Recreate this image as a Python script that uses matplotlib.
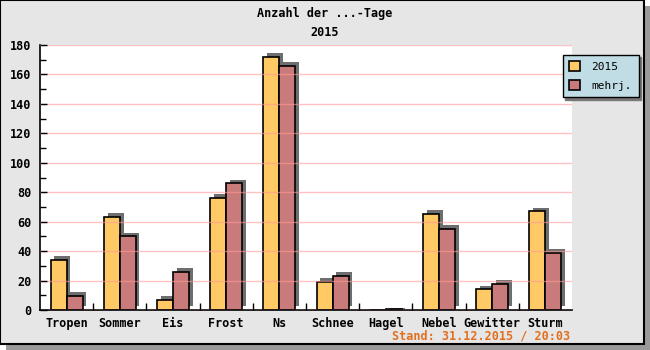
import numpy as np
import matplotlib.pyplot as plt
from matplotlib.patches import Rectangle

categories = ['Tropen', 'Sommer', 'Eis', 'Frost', 'Ns', 'Schnee', 'Hagel',
              'Nebel', 'Gewitter', 'Sturm']
tage_2015 = [34, 63, 7, 76, 172, 19, 0, 65, 14, 67]
tage_mehrj = [9.5, 50, 26, 86, 166, 23, 0.6, 55, 18, 39]

plt.rcParams['font.family'] = ['DejaVu Sans Mono']
plt.rcParams['font.weight'] = 'bold'

fig = plt.figure(figsize=(6.5, 3.5), dpi=100)
fig.patch.set_facecolor('white')

# outer frame with drop shadow
fig.patches.append(Rectangle((6 / 650, 0), 644 / 650, 344 / 350, transform=fig.transFigure,
                             facecolor='#9a9a9a', edgecolor='none', zorder=-3))
fig.patches.append(Rectangle((0, 6 / 350), 644 / 650, 344 / 350, transform=fig.transFigure,
                             facecolor='#e6e6e6', edgecolor='black', linewidth=1.5, zorder=-2))

ax = fig.add_axes([40 / 650, 40 / 350, 532 / 650, 265 / 350])
ax.set_facecolor('white')

x = np.arange(len(categories))
w = 0.3
sx, sy = 0.07, 2.6  # shadow offset in data units

for xi, a, b in zip(x, tage_2015, tage_mehrj):
    for left, h in ((xi - w, a), (xi, b)):
        if h > 0:
            ax.add_patch(Rectangle((left + sx, sy * min(1, h / 3)), w, h,
                                   facecolor='#555555', alpha=0.85, edgecolor='none', zorder=1))

ax.bar(x - w / 2, tage_2015, w, color='#ffc966', edgecolor='black', linewidth=1.2,
       label='2015', zorder=2)
ax.bar(x + w / 2, tage_mehrj, w, color='#c97b7b', edgecolor='black', linewidth=1.2,
       label='mehrj.', zorder=2)

ax.set_xlim(-0.5, len(categories) - 0.5)
ax.set_ylim(0, 180)
ax.set_yticks(np.arange(0, 181, 20))
ax.set_yticks(np.arange(0, 181, 10), minor=True)
ax.yaxis.grid(True, color='#ff9999', alpha=0.6, linewidth=1, zorder=3)
ax.set_axisbelow(False)

ax.set_xticks(x)
ax.set_xticklabels(categories)
ax.set_xticks(np.arange(0.5, len(categories) - 0.5, 1), minor=True)
ax.tick_params(axis='x', which='major', length=0, labelsize=8.5, pad=5)
ax.tick_params(axis='x', which='minor', direction='in', length=5, width=1)
ax.tick_params(axis='y', which='both', direction='in', width=1, labelsize=8.5, pad=6)
ax.tick_params(axis='y', which='major', length=5)
ax.tick_params(axis='y', which='minor', length=4)
for s in ('top', 'right'):
    ax.spines[s].set_visible(False)
for s in ('left', 'bottom'):
    ax.spines[s].set_linewidth(1.2)

fig.text(0.5, 1 - 13 / 350, 'Anzahl der ...-Tage', ha='center', va='center', fontsize=8.5)
fig.text(0.5, 1 - 32 / 350, '2015', ha='center', va='center', fontsize=8.5)
fig.text(570 / 650, 1 - 336 / 350, 'Stand: 31.12.2015 / 20:03', ha='right', va='center',
         fontsize=8.5, color='#e07020')

leg = fig.legend(loc='upper left', bbox_to_anchor=(557 / 650, 1 - 49 / 350),
                 prop={'size': 8, 'weight': 'normal'},
                 frameon=True, fancybox=False, shadow={'color': '#777777', 'alpha': 1},
                 handlelength=1.0, handleheight=1.0, borderpad=0.6, labelspacing=0.7,
                 handletextpad=1.0)
leg.get_frame().set_facecolor('#c0dde6')
leg.get_frame().set_edgecolor('black')
leg.get_frame().set_alpha(1)

fig.savefig('out.png', dpi=100)
